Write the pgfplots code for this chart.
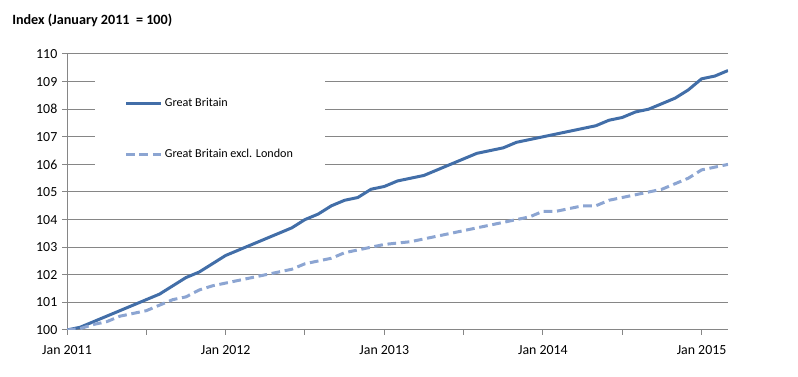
\documentclass[border=0pt]{standalone}
\usepackage{fontspec}
\setmainfont{Carlito}
\usepackage{pgfplots}
\usepackage{pgfplotstable}
\pgfplotsset{compat=1.18}
\definecolor{gbsolid}{RGB}{66,110,168}
\definecolor{gbdash}{RGB}{140,165,210}
\definecolor{gridgray}{RGB}{134,134,134}

\pgfplotstableread{
m gb ex
0 100.0 100.0
1 100.1 100.05
2 100.3 100.2
3 100.5 100.3
4 100.7 100.5
5 100.9 100.6
6 101.1 100.7
7 101.3 100.9
8 101.6 101.1
9 101.9 101.2
10 102.1 101.45
11 102.4 101.6
12 102.7 101.7
13 102.9 101.8
14 103.1 101.9
15 103.3 102.0
16 103.5 102.1
17 103.7 102.2
18 104.0 102.4
19 104.2 102.5
20 104.5 102.6
21 104.7 102.8
22 104.8 102.9
23 105.1 103.0
24 105.2 103.1
25 105.4 103.15
26 105.5 103.2
27 105.6 103.3
28 105.8 103.4
29 106.0 103.5
30 106.2 103.6
31 106.4 103.7
32 106.5 103.8
33 106.6 103.9
34 106.8 104.0
35 106.9 104.1
36 107.0 104.3
37 107.1 104.3
38 107.2 104.4
39 107.3 104.5
40 107.4 104.5
41 107.6 104.7
42 107.7 104.8
43 107.9 104.9
44 108.0 105.0
45 108.2 105.1
46 108.4 105.3
47 108.7 105.5
48 109.1 105.8
49 109.2 105.9
50 109.4 106.0
}\datatable

\begin{document}
\begin{tikzpicture}[x=0.75pt,y=0.75pt]
\path[use as bounding box] (0,0) rectangle (798,377);
\node[anchor=base west,font=\fontsize{10.6}{12}\selectfont\bfseries,inner sep=0pt] at (12,352) {Index (January 2011\ \ = 100)};
\begin{axis}[
  at={(50.25pt,35.25pt)}, anchor=south west,
  width=495.75pt, height=207pt, scale only axis,
  xmin=0, xmax=50, ymin=100, ymax=110,
  axis x line=bottom, axis y line=left,
  axis line style={draw=gridgray, line width=0.75pt, -},
  xtick={0,6,...,48},
  xticklabels={Jan 2011,,Jan 2012,,Jan 2013,,Jan 2014,,Jan 2015},
  ytick={100,101,...,110},
  ymajorgrids,
  grid style={draw=gridgray, line width=0.75pt},
  tick align=outside,
  major tick length=3.75pt,
  tick style={draw=gridgray, line width=0.75pt},
  tick label style={font=\fontsize{10.4}{12}\selectfont},
  xticklabel style={yshift=-4pt},
  /pgf/number format/assume math mode=true,
  legend style={at={(rel axis cs:0.0424,0.9167)}, anchor=north west,
    draw=none, fill=white, inner xsep=22pt, inner ysep=14pt,
    row sep=26pt, font=\fontsize{9.1}{11}\selectfont},
  legend cell align=left,
  legend image code/.code={\draw[#1] (0pt,0pt) -- (26pt,0pt);},
]
\addplot[gbsolid, line width=2.25pt] table[x=m,y=gb] {\datatable};
\addlegendentry{Great Britain}
\addplot[gbdash, line width=2.25pt, dash pattern=on 6.5pt off 3.5pt] table[x=m,y=ex] {\datatable};
\addlegendentry{Great Britain excl. London}
\end{axis}
\end{tikzpicture}
\end{document}
